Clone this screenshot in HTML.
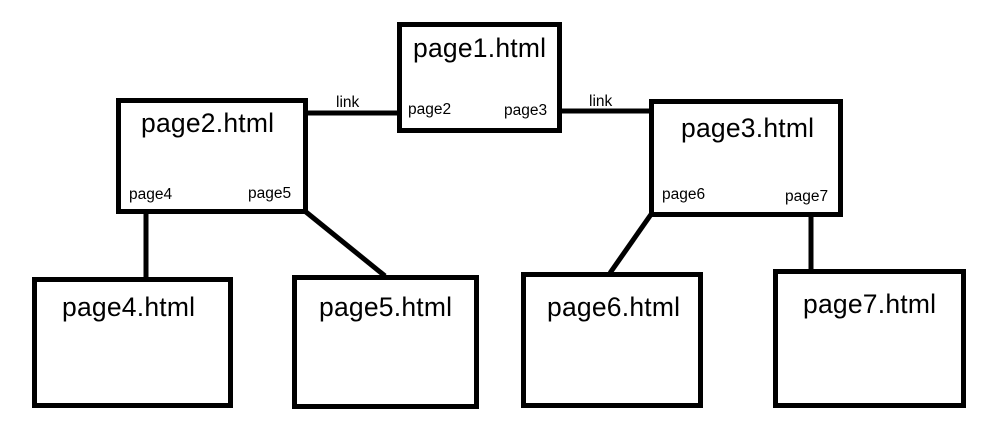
<!DOCTYPE html>
<html><head><meta charset="utf-8"><style>
html,body{margin:0;padding:0;background:#fff;}
svg{display:block;}
text{font-family:"Liberation Sans",Arial,sans-serif;fill:#000;}
.t{font-size:26.5px;}
.s{font-size:15.5px;}
</style></head><body>
<svg width="997" height="444" viewBox="0 0 997 444" xmlns="http://www.w3.org/2000/svg">
<g fill="none" stroke="#000" stroke-width="5">
<rect x="399.5" y="24.5" width="160" height="106"/>
<rect x="118.5" y="100.5" width="187" height="111"/>
<rect x="651.5" y="101.5" width="189" height="113"/>
<rect x="34.5" y="279.5" width="196" height="126"/>
<rect x="294.5" y="277.5" width="182" height="129"/>
<rect x="523.5" y="274.5" width="177" height="131"/>
<rect x="775.5" y="271.5" width="188" height="134"/>
<line x1="305" y1="113" x2="400" y2="113"/>
<line x1="559" y1="111" x2="653" y2="111"/>
<line x1="146" y1="212" x2="146" y2="279"/>
<line x1="306" y1="212" x2="385" y2="276"/>
<line x1="652" y1="213" x2="610" y2="273"/>
<line x1="811" y1="215" x2="811" y2="271"/>
</g>
<text class="t" x="413" y="57" textLength="133">page1.html</text>
<text class="t" x="141" y="132" textLength="133">page2.html</text>
<text class="t" x="681" y="137" textLength="133">page3.html</text>
<text class="t" x="62" y="316" textLength="133">page4.html</text>
<text class="t" x="319" y="316" textLength="133">page5.html</text>
<text class="t" x="547" y="316" textLength="133">page6.html</text>
<text class="t" x="803" y="313" textLength="133">page7.html</text>
<text class="s" x="408" y="114">page2</text>
<text class="s" x="504" y="115">page3</text>
<text class="s" x="129" y="199">page4</text>
<text class="s" x="248" y="198">page5</text>
<text class="s" x="662" y="199">page6</text>
<text class="s" x="785" y="201">page7</text>
<text class="s" x="336" y="107">link</text>
<text class="s" x="589" y="106">link</text>
</svg>
</body></html>
